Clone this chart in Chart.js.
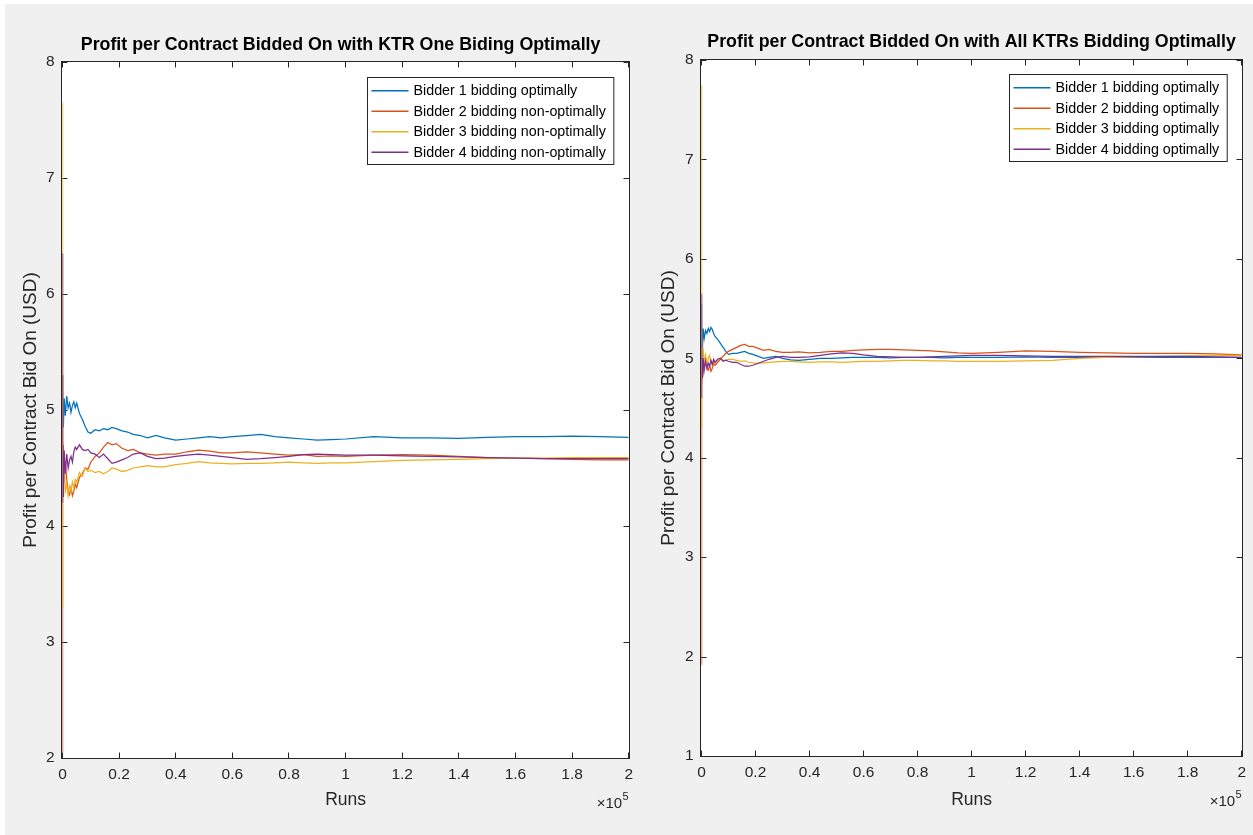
<!DOCTYPE html>
<html>
<head>
<meta charset="utf-8">
<script src="https://cdn.jsdelivr.net/npm/chart.js@4/dist/chart.umd.min.js"></script>
<style>
  html, body { margin: 0; padding: 0; background: #ffffff; }
  #fig { position: absolute; left: 5px; top: 4px; width: 1248px; height: 831px; background: #f0f0f0; }
  canvas { position: absolute; top: 0; }
  #c1 { left: 0; }
  #c2 { left: 640px; }
</style>
</head>
<body>
<div id="fig"></div>
<canvas id="c1" width="640" height="835"></canvas>
<canvas id="c2" width="613" height="835"></canvas>
<script>
// run counts where values were sampled (shared by both panels)
const runs = [1, 3, 10, 30, 100, 300, 600,
  1000, 1500, 2000, 2500, 3000, 3500, 4000, 4500, 5000,
  6000, 7000, 8000, 9000, 10000,
  11500, 13000, 14500, 16000, 17500, 19000,
  21000, 23000, 25000, 27500, 30000,
  33000, 36000, 40000, 44000, 48000,
  52000, 56000, 60000, 65000, 70000,
  75000, 80000, 85000, 90000, 95000, 100000,
  110000, 120000, 130000, 140000, 150000, 160000, 170000, 180000, 190000, 200000];

const xTicks = [0, 20000, 40000, 60000, 80000, 100000, 120000, 140000, 160000, 180000, 200000];

// left panel: only bidder 1 optimal
const leftTitle = "Profit per Contract Bidded On with KTR One Biding Optimally";
const leftLabels = ["Bidder 1 bidding optimally", "Bidder 2 bidding non-optimally", "Bidder 3 bidding non-optimally", "Bidder 4 bidding non-optimally"];
const leftBidder1 = [5.30, 4.95, 5.20, 4.90, 5.15, 4.85, 5.10,
  4.95, 5.12, 5.02, 5.06, 4.98, 5.04, 5.07, 5.02, 5.06,
  4.97, 4.92, 4.86, 4.81, 4.80,
  4.83, 4.82, 4.84, 4.83, 4.85, 4.84,
  4.82, 4.81, 4.79, 4.78, 4.76,
  4.78, 4.76, 4.74, 4.75, 4.76,
  4.77, 4.76, 4.77, 4.78, 4.79,
  4.77, 4.76, 4.75, 4.74, 4.745, 4.75,
  4.77, 4.76, 4.76, 4.755, 4.765, 4.77, 4.77, 4.775, 4.77, 4.765];
const leftBidder2 = [2.05, 5.30, 3.20, 4.90, 4.20, 4.70, 4.45,
  4.55, 4.40, 4.30, 4.27, 4.33, 4.26, 4.30, 4.36, 4.33,
  4.42, 4.45, 4.50, 4.49, 4.55,
  4.60, 4.63, 4.68, 4.72, 4.70, 4.71,
  4.67, 4.65, 4.66, 4.63, 4.62,
  4.61, 4.62, 4.62, 4.64, 4.655,
  4.645, 4.63, 4.63, 4.64, 4.63,
  4.62, 4.61, 4.615, 4.60, 4.605, 4.60,
  4.61, 4.615, 4.61, 4.60, 4.59, 4.585, 4.58, 4.575, 4.57, 4.57];
const leftBidder3 = [7.65, 3.30, 6.00, 4.20, 4.70, 4.35, 4.55,
  4.30, 4.36, 4.26, 4.34, 4.30, 4.38, 4.33, 4.40, 4.38,
  4.46, 4.43, 4.50, 4.47, 4.48,
  4.46, 4.47, 4.45, 4.47, 4.50, 4.49,
  4.47, 4.48, 4.50, 4.51, 4.52,
  4.51, 4.51, 4.53, 4.54, 4.555,
  4.545, 4.54, 4.535, 4.54, 4.54,
  4.545, 4.55, 4.545, 4.54, 4.545, 4.545,
  4.555, 4.565, 4.57, 4.575, 4.58, 4.585, 4.585, 4.59, 4.59, 4.59];
const leftBidder4 = [6.35, 4.20, 5.20, 4.30, 4.75, 4.25, 4.65,
  4.45, 4.62, 4.50, 4.57, 4.60, 4.55, 4.64, 4.68, 4.66,
  4.70, 4.66, 4.65, 4.66, 4.63,
  4.62, 4.59, 4.62, 4.58, 4.54, 4.55,
  4.57, 4.59, 4.62, 4.63, 4.60,
  4.58, 4.585, 4.60, 4.61, 4.62,
  4.61, 4.60, 4.59, 4.575, 4.58,
  4.59, 4.60, 4.615, 4.62, 4.615, 4.61,
  4.61, 4.605, 4.60, 4.595, 4.59, 4.585, 4.58, 4.58, 4.58, 4.58];

// right panel: every bidder optimal
const rightTitle = "Profit per Contract Bidded On with All KTRs Bidding Optimally";
const rightLabels = ["Bidder 1 bidding optimally", "Bidder 2 bidding optimally", "Bidder 3 bidding optimally", "Bidder 4 bidding optimally"];
const rightBidder1 = [5.55, 4.95, 5.45, 5.00, 5.35, 5.05, 5.30,
  5.20, 5.28, 5.25, 5.30, 5.27, 5.31, 5.29, 5.25, 5.22,
  5.19, 5.15, 5.11, 5.07, 5.04,
  5.05, 5.05, 5.06, 5.07, 5.05, 5.04,
  5.02, 5.00, 5.01, 5.02, 5.00,
  4.985, 4.98, 4.99, 5.00, 5.00,
  5.005, 5.01, 5.01, 5.01, 5.005,
  5.01, 5.01, 5.01, 5.005, 5.01, 5.01,
  5.01, 5.015, 5.01, 5.01, 5.01, 5.01, 5.01, 5.01, 5.01, 5.01];
const rightBidder2 = [1.92, 4.00, 4.60, 4.95, 4.70, 4.90, 4.85,
  4.95, 5.00, 4.90, 4.88, 4.93, 4.87, 4.90, 4.95, 4.93,
  4.96, 4.99, 5.02, 5.05, 5.07,
  5.09, 5.11, 5.13, 5.14, 5.12, 5.12,
  5.10, 5.08, 5.09, 5.07, 5.06,
  5.06, 5.065, 5.055, 5.06, 5.07,
  5.07, 5.08, 5.085, 5.09, 5.09,
  5.085, 5.08, 5.075, 5.065, 5.055, 5.05,
  5.06, 5.075, 5.07, 5.06, 5.055, 5.05, 5.05, 5.05, 5.045, 5.035];
const rightBidder3 = [7.75, 4.30, 6.20, 4.80, 5.30, 4.90, 5.10,
  4.95, 5.03, 4.92, 5.00, 5.03, 4.96, 4.93, 4.97, 4.95,
  4.99, 5.00, 4.98, 4.98, 4.99,
  4.99, 4.98, 4.97, 4.975, 4.96, 4.955,
  4.95, 4.955, 4.96, 4.965, 4.97,
  4.97, 4.965, 4.96, 4.965, 4.965,
  4.96, 4.965, 4.97, 4.97, 4.975,
  4.98, 4.98, 4.975, 4.975, 4.97, 4.97,
  4.97, 4.975, 4.98, 5.00, 5.01, 5.015, 5.02, 5.025, 5.03, 5.03];
const rightBidder4 = [5.65, 4.60, 5.30, 4.75, 5.10, 4.80, 5.00,
  4.88, 4.97, 4.90, 4.95, 4.92, 4.98, 4.94, 4.99, 4.96,
  4.99, 5.00, 4.97, 4.98, 4.97,
  4.96, 4.96, 4.94, 4.92, 4.92, 4.93,
  4.95, 4.97, 4.99, 5.01, 5.02,
  5.01, 5.01, 5.015, 5.03, 5.045,
  5.055, 5.05, 5.035, 5.02, 5.015,
  5.01, 5.01, 5.015, 5.02, 5.025, 5.03,
  5.03, 5.025, 5.02, 5.02, 5.02, 5.02, 5.02, 5.02, 5.015, 5.01];

const colors = ["#0072BD", "#D95319", "#EDB120", "#7E2F8E"];
const ink = "#262626";
const fontFamily = "'Liberation Sans', Arial, Helvetica, sans-serif";

// MATLAB-ish axes: white box with inward ticks under the data, then title, legend, x10^5
const matlabAxes = {
  id: "matlabAxes",
  beforeDatasetsDraw(chart) {
    const { ctx, chartArea: a, scales } = chart;
    const x = scales.x, y = scales.y;
    const L = Math.floor(a.left) - 0.5, R = Math.round(a.right) + 0.5;
    const T = Math.round(a.top) - 0.5, B = Math.round(a.bottom) + 0.5;
    ctx.save();
    ctx.fillStyle = "#ffffff";
    ctx.fillRect(L, T, R - L, B - T);
    ctx.strokeStyle = ink;
    ctx.lineWidth = 1;
    ctx.beginPath();
    x.ticks.forEach(t => {
      const px = Math.floor(x.getPixelForValue(t.value)) + 0.5;
      ctx.moveTo(px, B); ctx.lineTo(px, B - 6);
      ctx.moveTo(px, T); ctx.lineTo(px, T + 6);
    });
    y.ticks.forEach(t => {
      const py = Math.round(y.getPixelForValue(t.value)) + 0.5;
      ctx.moveTo(L, py); ctx.lineTo(L + 6, py);
      ctx.moveTo(R, py); ctx.lineTo(R - 6, py);
    });
    ctx.stroke();
    ctx.strokeRect(L, T, R - L, B - T);
    ctx.restore();
  },
  afterDraw(chart, args, opts) {
    const { ctx, chartArea: a } = chart;
    ctx.save();
    // title
    ctx.fillStyle = "#000000";
    ctx.font = "bold 17.8px " + fontFamily;
    ctx.textAlign = "center";
    ctx.textBaseline = "middle";
    ctx.fillText(opts.title, (a.left + a.right) / 2 + opts.titleDx, opts.titleY);

    // legend
    ctx.font = "14.3px " + fontFamily;
    const ds = chart.data.datasets;
    const textW = Math.max(...ds.map(d => ctx.measureText(d.label).width));
    const rowH = 20.5;
    const boxW = 4 + 37 + 5 + textW + 8;
    const boxH = ds.length * rowH + 5;
    const bx = Math.round(a.right - 15 - boxW) + 0.5;
    const by = Math.round(a.top + opts.legendInset) + 0.5;
    ctx.fillStyle = "#ffffff";
    ctx.fillRect(bx, by, boxW, boxH);
    ctx.strokeStyle = ink;
    ctx.lineWidth = 1;
    ctx.strokeRect(bx, by, boxW, boxH);
    ctx.textAlign = "left";
    ds.forEach((d, i) => {
      const ry = by + 3 + rowH * (i + 0.5);
      ctx.strokeStyle = d.borderColor;
      ctx.lineWidth = 1.4;
      ctx.beginPath();
      ctx.moveTo(bx + 4, ry);
      ctx.lineTo(bx + 41, ry);
      ctx.stroke();
      ctx.fillStyle = "#000000";
      ctx.fillText(d.label, bx + 46, ry + 0.5);
    });

    // exponent
    ctx.fillStyle = ink;
    ctx.textAlign = "right";
    ctx.textBaseline = "alphabetic";
    ctx.font = "11px " + fontFamily;
    const sw = ctx.measureText("5").width;
    ctx.fillText("5", a.right, a.bottom + 42);
    ctx.font = "15px " + fontFamily;
    ctx.fillText("\u00d710", a.right - sw - 0.5, a.bottom + 50);
    ctx.restore();
  }
};

function makeChart(id, title, labels, series, yMin, geom) {
  return new Chart(document.getElementById(id), {
    type: "line",
    data: {
      datasets: series.map((vals, i) => ({
        label: labels[i],
        data: vals.map((v, j) => ({ x: runs[j], y: v })),
        borderColor: colors[i],
        borderWidth: 1.25,
        pointRadius: 0,
        tension: 0,
        fill: false,
        order: series.length - i,
      })),
    },
    options: {
      responsive: false,
      animation: false,
      devicePixelRatio: 1,
      layout: { padding: { top: geom.top, right: geom.right, left: 0, bottom: 0 } },
      scales: {
        x: {
          type: "linear",
          min: 0,
          max: 200000,
          afterBuildTicks: s => { s.ticks = xTicks.map(v => ({ value: v })); },
          afterFit: s => { s.height = geom.xHeight; },
          grid: { display: false, drawTicks: false },
          border: { display: false },
          ticks: {
            autoSkip: false,
            maxRotation: 0,
            padding: 7,
            color: ink,
            font: { family: fontFamily, size: 15.5 },
            callback: v => String(+(v / 1e5).toFixed(1)),
          },
          title: {
            display: true,
            text: "Runs",
            color: ink,
            font: { family: fontFamily, size: 17.5 },
            padding: { top: 0, bottom: 24 },
          },
        },
        y: {
          type: "linear",
          min: yMin,
          max: 8,
          afterFit: s => { s.width = geom.yWidth; },
          grid: { display: false, drawTicks: false },
          border: { display: false },
          ticks: {
            stepSize: 1,
            padding: 8,
            color: ink,
            font: { family: fontFamily, size: 15.5 },
          },
          title: {
            display: true,
            text: "Profit per Contract Bid On (USD)",
            color: ink,
            font: { family: fontFamily, size: 19 },
            padding: { top: geom.yTitlePad, bottom: 0 },
          },
        },
      },
      plugins: {
        legend: { display: false },
        tooltip: { enabled: false },
        matlabAxes: { title, titleY: geom.titleY, titleDx: geom.titleDx, legendInset: geom.legendInset },
      },
    },
    plugins: [matlabAxes],
  });
}

makeChart("c1", leftTitle, leftLabels, [leftBidder1, leftBidder2, leftBidder3, leftBidder4], 2,
  { top: 62, right: 9, xHeight: 77, yWidth: 62.5, yTitlePad: 19, titleY: 45, titleDx: -5, legendInset: 15 });
makeChart("c2", rightTitle, rightLabels, [rightBidder1, rightBidder2, rightBidder3, rightBidder4], 1,
  { top: 60, right: 8, xHeight: 79, yWidth: 61.5, yTitlePad: 17, titleY: 42, titleDx: 0, legendInset: 14 });
</script>
</body>
</html>
